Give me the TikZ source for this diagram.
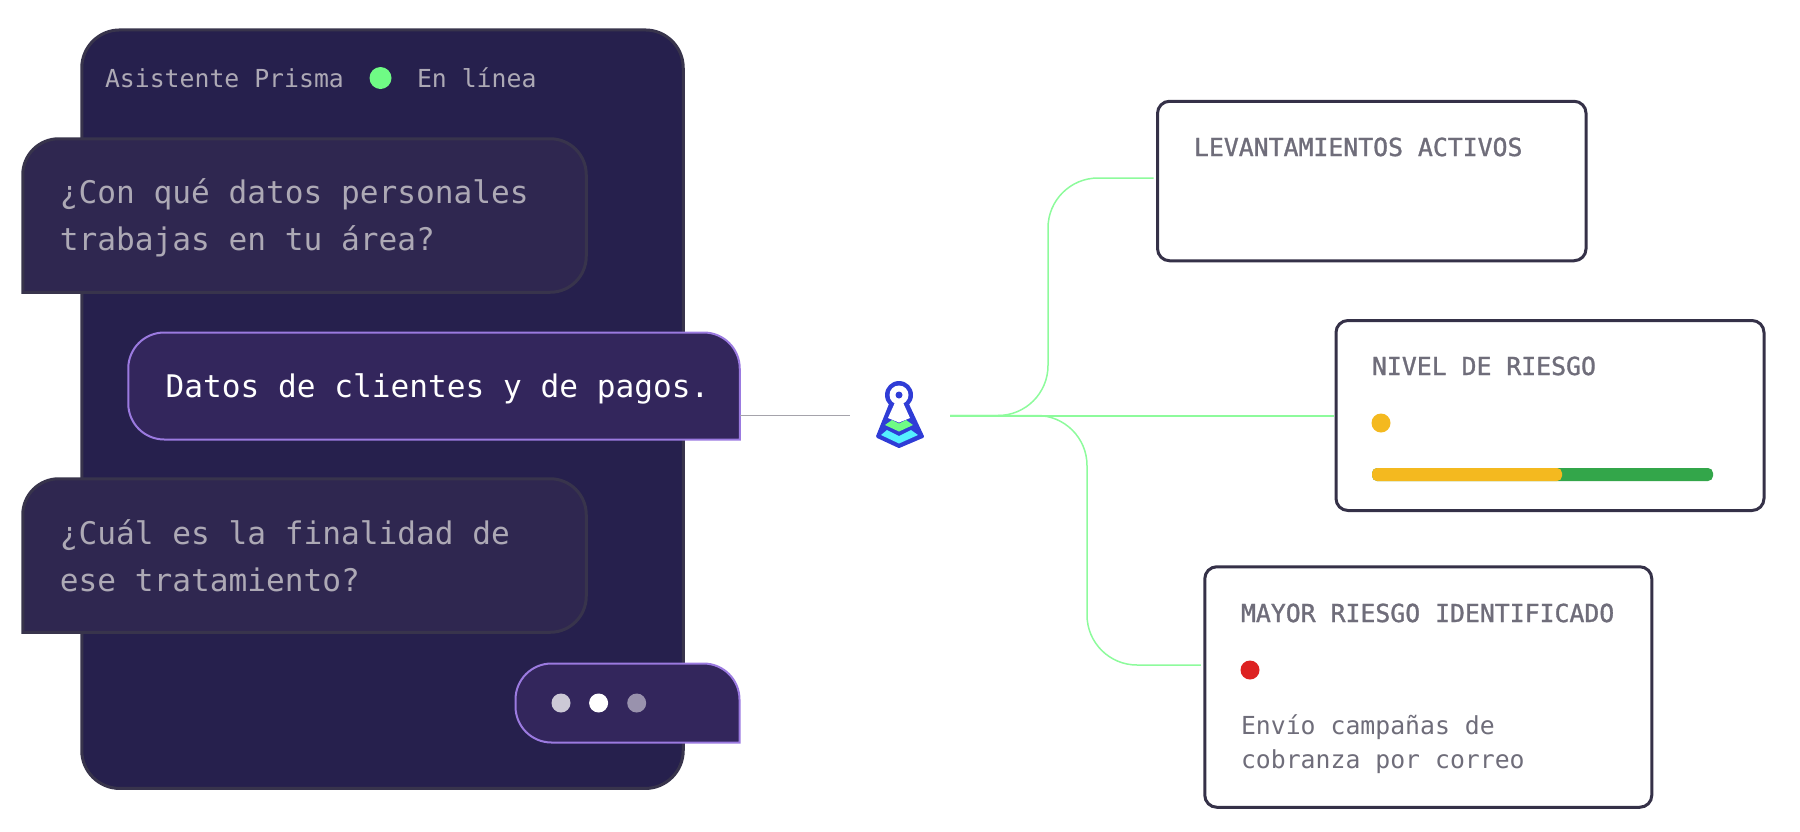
\documentclass[tikz,border=0pt]{standalone}
\usepackage{fontspec}
\setmonofont{DejaVu Sans Mono}
\newfontfamily\titlefont[FakeBold=1.2]{DejaVu Sans Mono}
\usetikzlibrary{positioning}
\definecolor{panelfill}{HTML}{26204D}
\definecolor{panelline}{HTML}{38344C}
\definecolor{askfill}{HTML}{2F2750}
\definecolor{answerfill}{HTML}{33265C}
\definecolor{answerline}{HTML}{9B7AE0}
\definecolor{softtext}{HTML}{ADA9B5}
\definecolor{cardtext}{HTML}{6F6D7A}
\definecolor{cardline}{HTML}{353148}
\definecolor{linkgreen}{HTML}{8DFB9C}
\definecolor{linkgrey}{HTML}{A5A3AB}
\definecolor{online}{HTML}{6FFB85}
\definecolor{amber}{HTML}{F4B91F}
\definecolor{barGreen}{HTML}{33A64A}
\definecolor{alert}{HTML}{DD2222}
\definecolor{iconblue}{HTML}{2F3CD6}
\definecolor{iconcyan}{HTML}{55F0FF}
\tikzset{
  shapebox/.style={minimum width=#1,inner sep=0pt,outer sep=0pt},
  askbubble/.style={draw=panelline,fill=askfill,line width=3pt},
  answerbubble/.style={draw=answerline,fill=answerfill,line width=2pt},
  bubbletext/.style={inner sep=0pt,outer sep=0pt,align=left,text=softtext,
    font=\ttfamily\fontsize{31.15}{47}\selectfont},
  headtext/.style={inner sep=0pt,outer sep=0pt,anchor=base west,text=softtext,
    font=\ttfamily\fontsize{24.8}{30}\selectfont},
  card/.style={draw=cardline,fill=white,line width=3pt,rounded corners=12pt,
    inner sep=0pt,outer sep=0pt},
  cardtitle/.style={inner sep=0pt,outer sep=0pt,anchor=base west,text=cardtext,
    font=\titlefont\fontsize{24.8}{30}\selectfont},
  cardbody/.style={inner sep=0pt,outer sep=0pt,align=left,text=cardtext,
    font=\ttfamily\fontsize{24.8}{34}\selectfont},
  dotmark/.style={circle,fill=#1,minimum size=19pt,inner sep=0pt},
  link/.style={draw=linkgreen,line width=1.5pt,rounded corners=50pt},
}
\begin{document}
\begin{tikzpicture}[x=1pt,y=-1pt]
  \useasboundingbox (0,0) rectangle (1800,831);

  % chat panel
  \node[shapebox=601.5pt,minimum height=758.5pt,draw=panelline,fill=panelfill,line width=3pt,
        rounded corners=38pt] (panel) at (382.5,409.2) {};
  \node[headtext] (assistant) at (105,87) {Asistente Prisma};
  \node[dotmark=online,minimum size=22pt] (status) at (380.5,78) {};
  \node[headtext] (online) at (417,87) {En línea};

  % questions and answers
  \node[shapebox=563.5pt,minimum height=153.5pt] (ask1) at (304.5,215.5) {};
  \draw[askbubble] (ask1.south west) [rounded corners=36pt] -- (ask1.north west)
    -- (ask1.north east) -- (ask1.south east) [sharp corners] -- cycle;
  \node[bubbletext,anchor=west] (ask1text) at ([xshift=37pt,yshift=-2pt]ask1.west)
    {¿Con qué datos personales\\trabajas en tu área?};

  \node[shapebox=611.5pt,minimum height=107pt] (answer) at (434,386) {};
  \draw[answerbubble] (answer.south east) [rounded corners=36pt] -- (answer.north east)
    -- (answer.north west) -- (answer.south west) [sharp corners] -- cycle;
  \node[bubbletext,anchor=west,text=white] (answertext) at ([xshift=37.3pt,yshift=-2.5pt]answer.west)
    {Datos de clientes y de pagos.};

  \node[shapebox=563.5pt,minimum height=153.5pt] (ask2) at (304.5,555.5) {};
  \draw[askbubble] (ask2.south west) [rounded corners=36pt] -- (ask2.north west)
    -- (ask2.north east) -- (ask2.south east) [sharp corners] -- cycle;
  \node[bubbletext,anchor=west] (ask2text) at ([xshift=37pt,yshift=0pt]ask2.west)
    {¿Cuál es la finalidad de\\ese tratamiento?};

  \node[shapebox=224pt,minimum height=79pt] (typing) at (627.5,703) {};
  \draw[answerbubble] (typing.south east) [rounded corners=36pt] -- (typing.north east)
    -- (typing.north west) -- (typing.south west) [sharp corners] -- cycle;
  \node[dotmark=white!75!answerfill] (dot1) at (561,703) {};
  \node[dotmark=white] (dot2) at (598.6,703) {};
  \node[dotmark=white!50!answerfill] (dot3) at (636.7,703) {};

  % result cards
  \node[card,shapebox=428.5pt,minimum height=159.5pt] (active) at (1371.8,181) {};
  \node[cardtitle] (activetitle) at (1194,156) {LEVANTAMIENTOS ACTIVOS};

  \node[card,shapebox=428pt,minimum height=190pt] (level) at (1550,415.5) {};
  \node[cardtitle] (leveltitle) at (1372,375) {NIVEL DE RIESGO};
  \node[dotmark=amber] (leveldot) at (1381,423) {};
  \node[draw=none,fill=barGreen,rounded corners=5pt,shapebox=341pt,minimum height=13pt] (barfull) at (1542.5,474.5) {};
  \node[draw=none,fill=amber,rounded corners=5pt,shapebox=190pt,minimum height=13pt] (barpart) at (1467,474.5) {};

  \node[card,shapebox=447pt,minimum height=240.5pt] (risk) at (1428.3,687) {};
  \node[cardtitle] (risktitle) at (1241,622) {MAYOR RIESGO IDENTIFICADO};
  \node[dotmark=alert] (riskdot) at (1250,670) {};
  \node[cardbody,anchor=north west] (riskbody) at (1241,714.7) {Envío campañas de\\cobranza por correo};

  % hub and links
  \node[inner sep=0pt,outer sep=0pt,minimum width=100pt,minimum height=20pt] (hub) at (900,415.5) {};
  \draw[linkgrey,line width=1.5pt] (answer.east |- hub.west) -- (hub.west);
  \draw[link,shorten >=4pt] (hub.east) -- (1048,415.5) -- (1048,178) -- ([yshift=3pt]active.west);
  \draw[draw=linkgreen,line width=2pt,shorten >=2pt] (hub.east) -- (level.west);
  \draw[link,shorten >=4pt] (hub.east) -- (1087,415.5) -- (1087,665) -- ([yshift=22pt]risk.west);

  % icon
  \begin{scope}[shift={(hub.center)},x=1pt,y=-1pt]
    \fill[iconblue,line join=round,draw=iconblue,line width=3pt] (-10,-10) -- (-22.5,21) -- (-1,31) -- (22.5,21) -- (8,-10) -- cycle;
    \fill[iconblue] (-1,-20.5) circle (14pt);
    \fill[white] (-1,-20.5) circle (9.5pt);
    \fill[white] (-5,-13) -- (3,-13) -- (10,2.5) -- (-1,7) -- (-12,2.5) -- cycle;
    \fill[iconblue] (-1,-20.5) circle (3.5pt);
    \fill[online] (-15,9.5) -- (-8,4.5) -- (-1,8) -- (6,4.5) -- (13,9.5) -- (-1,16) -- cycle;
    \fill[iconcyan] (-19,19.5) -- (-13,14.5) -- (-1,20.5) -- (11,14.5) -- (18,19.5) -- (-1,28) -- cycle;
  \end{scope}
\end{tikzpicture}
\end{document}
